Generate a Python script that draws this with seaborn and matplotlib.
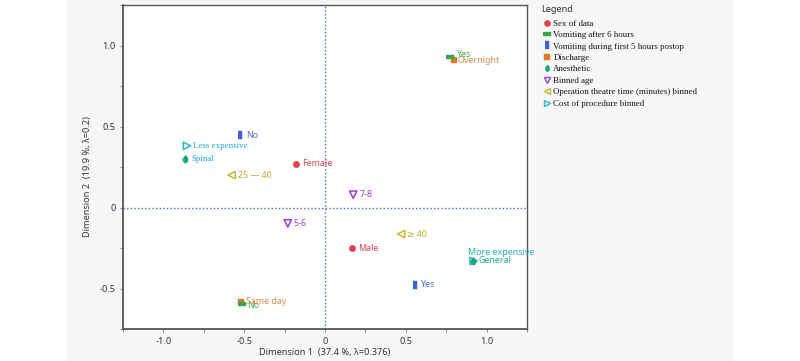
import numpy as np
import pandas as pd
import matplotlib
matplotlib.use("Agg")
import matplotlib.pyplot as plt
from matplotlib.lines import Line2D
from matplotlib.patches import Rectangle
import seaborn as sns

# ---- data ----
groups = ["sex", "sex", "vom5", "vom5", "vom6", "vom6", "dis", "dis",
          "anes", "anes", "age", "age", "ot", "ot", "cost", "cost"]
labels = ["Female", "Male", "No", "Yes", "No", "Yes", "Same day", "Overnight",
          "Spinal", "General", "7-8", "5-6", "25 \u2014 40", "\u2265 40",
          "Less expensive", "More expensive"]
dim1 = [-0.18, 0.165, -0.525, 0.556, -0.515, 0.774, -0.517, 0.796,
        -0.866, 0.915, 0.175, -0.23, -0.578, 0.471, -0.854, 0.92]
dim2 = [0.27, -0.252, 0.446, -0.476, -0.598, 0.931, -0.581, 0.910,
        0.30, -0.328, 0.079, -0.098, 0.20, -0.164, 0.381, -0.33]

legend_names = ["Sex of data", "Vomiting after 6 hours", "Vomiting during first 5 hours postop",
                "Discharge", "Anesthetic", "Binned age",
                "Operation theatre time (minutes) binned", "Cost of procedure binned"]
legend_keys = ["sex", "vom6", "vom5", "dis", "anes", "age", "ot", "cost"]

df = pd.DataFrame({"group": groups, "label": labels, "x": dim1, "y": dim2})

# ---- styles ----
hbar = [(-1, -0.45), (1, -0.45), (1, 0.45), (-1, 0.45)]
vbar = [(-0.45, -1), (0.45, -1), (0.45, 1), (-0.45, 1)]
drop = [(0, 1), (0.55, 0.35), (0.6, -0.2), (0.35, -0.7), (0, -0.85),
        (-0.35, -0.7), (-0.6, -0.2), (-0.55, 0.35)]
style = {
    "sex":  dict(marker="o", color="#e0434f", filled=True, s=22),
    "vom6": dict(marker=hbar, color="#33a84a", filled=True, s=40),
    "vom5": dict(marker=vbar, color="#3a62d6", filled=True, s=40),
    "dis":  dict(marker="s", color="#e07a2a", filled=True, s=22),
    "anes": dict(marker=drop, color="#1ca57c", filled=True, s=40),
    "age":  dict(marker="v", color="#9b3be0", filled=False, s=28),
    "ot":   dict(marker="<", color="#c4bb3a", filled=False, s=28),
    "cost": dict(marker=">", color="#2cb8c8", filled=False, s=28),
}
order = ["cost", "anes", "ot", "age", "sex", "vom5", "dis", "vom6"]

label_color = {
    "Female": "#d9414f", "Male": "#d9414f",
    "vom5": "#4a6fd8", "vom6": "#3fae48", "dis": "#d98a4a",
    "Spinal": "#1fa8e6", "Less expensive": "#1fa8e6",
    "General": "#20a88a", "More expensive": "#2ab0b0",
    "ot": "#b8b030", "age": "#9b40e0",
}
serif_labels = {"Spinal", "Less expensive"}
offsets = {("cost", "More expensive"): (-4.3, 5.8),
           ("vom6", "Yes"): (5.0, 1.5),
           ("vom6", "No"): (4.0, -1.0),
           ("dis", "Same day"): (3.5, 0.0),
           ("dis", "Overnight"): (3.0, 0.0)}

SANS = ["Noto Sans", "DejaVu Sans"]
SERIF = ["Liberation Serif", "DejaVu Serif"]

sns.set_style("white")
plt.rcParams["font.family"] = SANS

fig = plt.figure(figsize=(8.0, 3.61), dpi=100)
fig.patch.set_facecolor("white")
fig.patches.append(Rectangle((67 / 800, 0), (733 - 67) / 800, 1, transform=fig.transFigure,
                             facecolor="#f7f7f7", edgecolor="none", zorder=-10))
ax = fig.add_axes([123 / 800, 1 - 329 / 361, (527 - 123) / 800, (329 - 5) / 361])
ax.set_facecolor("white")

ax.axhline(0, color="#4a66d0", lw=1.0, ls=(0, (1, 1.6)), zorder=1)
ax.axvline(0, color="#4a66d0", lw=1.0, ls=(0, (1, 1.6)), zorder=1)

for g in order:
    st = style[g]
    sub = df[df["group"] == g]
    if st["filled"]:
        sns.scatterplot(data=sub, x="x", y="y", ax=ax, marker=st["marker"], color=st["color"],
                        edgecolor=st["color"], linewidth=0.3, s=st["s"], zorder=3, legend=False)
    else:
        sns.scatterplot(data=sub, x="x", y="y", ax=ax, marker=st["marker"], color=st["color"],
                        facecolor="none", edgecolor=st["color"], linewidth=1.1, s=st["s"],
                        zorder=3, legend=False)

for _, r in df.iterrows():
    g, lab = r["group"], r["label"]
    col = label_color.get(lab, label_color.get(g, "#333333"))
    off = offsets.get((g, lab), (4.3, 0.0))
    fam = SERIF if lab in serif_labels else SANS
    ax.annotate(lab, (r["x"], r["y"]), xytext=off, textcoords="offset points",
                ha="left", va="center", fontsize=6.4, color=col, family=fam, zorder=4)

ax.set_xlim(-1.25, 1.25)
ax.set_ylim(-0.75, 1.25)
ax.set_xticks([-1.0, -0.5, 0, 0.5, 1.0])
ax.set_xticklabels(["-1.0", "-0.5", "0", "0.5", "1.0"])
ax.set_yticks([-0.5, 0, 0.5, 1.0])
ax.set_yticklabels(["-0.5", "0", "0.5", "1.0"])
ax.set_xticks(np.arange(-1.25, 1.26, 0.25), minor=True)
ax.set_yticks(np.arange(-0.75, 1.26, 0.25), minor=True)
ax.tick_params(which="both", direction="out", length=2.5, width=0.6, color="#777777",
               labelsize=6.6, labelcolor="#333333", pad=3, bottom=True, left=True)
for side, sp in ax.spines.items():
    sp.set_color("#555555")
    sp.set_linewidth(1.3 if side in ("left", "bottom") else 1.0)

ax.set_xlabel("Dimension 1  (37.4 %, \u03bb=0.376)", fontsize=6.6, color="#333333", labelpad=2)
ax.set_ylabel("Dimension 2  (19.9 %, \u03bb=0.2)", fontsize=6.6, color="#333333")
ax.yaxis.set_label_coords(-0.077, 0.472)

handles = []
for k in legend_keys:
    st = style[k]
    ms = 5.5 if st["marker"] in (hbar, vbar, drop) else 4.5
    if st["filled"]:
        h = Line2D([], [], ls="none", marker=st["marker"], color=st["color"],
                   markerfacecolor=st["color"], markeredgecolor=st["color"], markersize=ms,
                   markeredgewidth=0.3)
    else:
        h = Line2D([], [], ls="none", marker=st["marker"], color=st["color"],
                   markerfacecolor="none", markeredgecolor=st["color"], markersize=ms,
                   markeredgewidth=1.0)
    handles.append(h)

fig.text(541 / 800, 1 - 9.5 / 361, "Legend", ha="left", va="center", fontsize=6.6,
         color="#333333", family=SANS)
leg = fig.legend(handles, legend_names, loc="upper left", bbox_to_anchor=(544 / 800, 1 - 19.5 / 361),
                 frameon=False, prop={"family": SERIF, "size": 6.4},
                 handlelength=0.6, handletextpad=0.45, labelspacing=0.36, borderpad=0,
                 borderaxespad=0)
for t in leg.get_texts():
    t.set_color("#111111")

fig.savefig("out.png", dpi=100, facecolor="white")
